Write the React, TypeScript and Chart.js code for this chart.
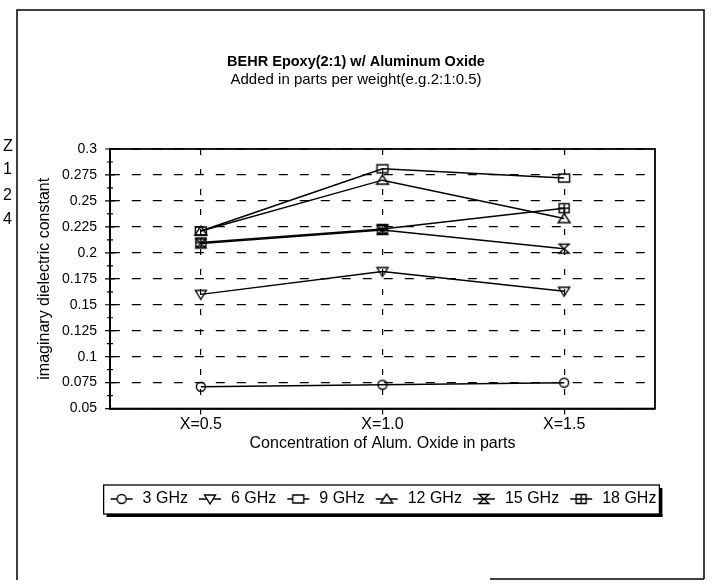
import React, { useEffect, useRef } from 'react';
import { Chart, registerables } from 'chart.js';

Chart.register(...registerables);

const categories = ['X=0.5', 'X=1.0', 'X=1.5'];
const seriesNames = ['3 GHz', '6 GHz', '9 GHz', '12 GHz', '15 GHz', '18 GHz'];
const ghz3 = [0.071, 0.073, 0.075];
const ghz6 = [0.16, 0.182, 0.163];
const ghz9 = [0.221, 0.281, 0.272];
const ghz12 = [0.221, 0.27, 0.233];
const ghz15 = [0.209, 0.222, 0.204];
const ghz18 = [0.21, 0.223, 0.243];
const yTickLabels = ['0.05', '0.075', '0.1', '0.125', '0.15', '0.175', '0.2', '0.225', '0.25', '0.275', '0.3'];
const markerKinds = ['circle', 'downTriangle', 'square', 'triangle', 'hourglass', 'boxPlus'];

const FAMILY = "'Liberation Sans', Arial, sans-serif";

function drawMarker(ctx: CanvasRenderingContext2D, kind: string, cx: number, cy: number, fillWhite: boolean) {
  ctx.strokeStyle = '#000';
  ctx.lineWidth = 1.4;
  ctx.fillStyle = '#fff';
  ctx.beginPath();
  switch (kind) {
    case 'circle':
      ctx.arc(cx, cy, 4.5, 0, Math.PI * 2);
      break;
    case 'downTriangle':
      ctx.moveTo(cx - 5.5, cy - 4);
      ctx.lineTo(cx + 5.5, cy - 4);
      ctx.lineTo(cx, cy + 5);
      ctx.closePath();
      break;
    case 'square':
      ctx.rect(cx - 5.5, cy - 4, 11, 8);
      break;
    case 'triangle':
      ctx.moveTo(cx - 6, cy + 4);
      ctx.lineTo(cx + 6, cy + 4);
      ctx.lineTo(cx, cy - 5);
      ctx.closePath();
      break;
    case 'hourglass':
      ctx.moveTo(cx - 5, cy - 4.5);
      ctx.lineTo(cx + 5, cy - 4.5);
      ctx.lineTo(cx - 5, cy + 4.5);
      ctx.lineTo(cx + 5, cy + 4.5);
      ctx.closePath();
      break;
    case 'boxPlus':
      ctx.rect(cx - 5, cy - 4.5, 10, 9);
      break;
  }
  if (fillWhite) ctx.fill();
  ctx.stroke();
  if (kind === 'boxPlus') {
    ctx.beginPath();
    ctx.moveTo(cx, cy - 4.5);
    ctx.lineTo(cx, cy + 4.5);
    ctx.moveTo(cx - 5, cy);
    ctx.lineTo(cx + 5, cy);
    ctx.stroke();
  }
}

function makeIcon(kind: string, width: number, withLine: boolean): HTMLCanvasElement {
  const c = document.createElement('canvas');
  c.width = width;
  c.height = 16;
  const ctx = c.getContext('2d')!;
  if (withLine) {
    ctx.strokeStyle = '#000';
    ctx.lineWidth = 1.5;
    ctx.beginPath();
    ctx.moveTo(2, 8);
    ctx.lineTo(width - 2, 8);
    ctx.stroke();
  }
  drawMarker(ctx, kind, width / 2, 8, withLine);
  return c;
}

const decorPlugin = {
  id: 'decor',
  afterLayout(chart: any) {
    const a = chart.chartArea;
    const d = (a.left + a.right) / 2 - chart.width / 2;
    if (chart.legend) {
      chart.legend.left += d;
      chart.legend.right += d;
    }
  },
  beforeDraw(chart: any) {
    const ctx = chart.ctx as CanvasRenderingContext2D;
    ctx.save();
    ctx.fillStyle = '#fff';
    ctx.fillRect(0, 0, chart.width, chart.height);
    ctx.strokeStyle = '#000';
    ctx.lineWidth = 1.5;
    ctx.beginPath();
    ctx.moveTo(17, 580);
    ctx.lineTo(17, 10);
    ctx.lineTo(704, 10);
    ctx.lineTo(704, 579);
    ctx.moveTo(490, 579);
    ctx.lineTo(704, 579);
    ctx.stroke();
    ctx.fillStyle = '#000';
    ctx.font = '16px ' + FAMILY;
    ctx.textBaseline = 'middle';
    const frags: [string, number][] = [['Z', 147], ['1', 170], ['2', 196], ['4', 220]];
    frags.forEach(([t, y]) => ctx.fillText(t, 3, y));
    ctx.restore();
  },
  beforeDatasetsDraw(chart: any) {
    const ctx = chart.ctx as CanvasRenderingContext2D;
    const a = chart.chartArea;
    const ys = chart.scales.y;
    ctx.save();
    ctx.strokeStyle = '#000';
    ctx.lineWidth = 1.8;
    ctx.strokeRect(a.left, a.top, a.right - a.left, a.bottom - a.top);
    ctx.lineWidth = 1.2;
    ctx.beginPath();
    const px = ys.ticks.map((t: any) => ys.getPixelForValue(t.value));
    px.forEach((p: number, i: number) => {
      ctx.moveTo(a.left - 5, p);
      ctx.lineTo(a.left + 5, p);
      if (i < px.length - 1) {
        const m = (p + px[i + 1]) / 2;
        ctx.moveTo(a.left - 3, m);
        ctx.lineTo(a.left + 3, m);
      }
    });
    ctx.stroke();
    ctx.restore();
  },
  afterDraw(chart: any) {
    const lg = chart.legend;
    if (!lg || !lg.legendHitBoxes || !lg.legendHitBoxes.length) return;
    const hb = lg.legendHitBoxes;
    const ctx = chart.ctx as CanvasRenderingContext2D;
    const last = hb[hb.length - 1];
    const l = hb[0].left - 5;
    const r = last.left + last.width + 3;
    const t = hb[0].top - 6;
    const b = hb[0].top + hb[0].height + 7;
    ctx.save();
    ctx.strokeStyle = '#000';
    ctx.lineWidth = 1.3;
    ctx.strokeRect(l, t, r - l, b - t);
    ctx.fillStyle = '#000';
    ctx.fillRect(l + 3, b, r - l, 3);
    ctx.fillRect(r, t + 3, 3, b - t);
    ctx.restore();
  },
};

export default function App() {
  const ref = useRef<HTMLCanvasElement>(null);
  useEffect(() => {
    document.body.style.margin = '0';
    const canvas = ref.current!;
    const seriesValues = [ghz3, ghz6, ghz9, ghz12, ghz15, ghz18];
    const pointIcons = markerKinds.map((k) => makeIcon(k, 16, false));
    const legendIcons = markerKinds.map((k) => makeIcon(k, 26, true));
    const chart = new Chart(canvas, {
      type: 'line',
      data: {
        labels: categories,
        datasets: seriesNames.map((name, i) => ({
          label: name,
          data: seriesValues[i],
          borderColor: '#000',
          backgroundColor: '#000',
          borderWidth: 1.5,
          pointStyle: pointIcons[i] as any,
          pointRadius: 6,
          tension: 0,
          fill: false,
        })),
      },
      options: {
        animation: false,
        responsive: false,
        events: [],
        layout: { padding: { top: 0, left: 0, right: 0, bottom: 67 } },
        scales: {
          x: {
            type: 'category',
            offset: true,
            grid: {
              color: '#000',
              lineWidth: 1.2,
              offset: false,
              drawTicks: true,
              tickLength: 6,
              tickColor: '#000',
              tickBorderDash: [],
            },
            border: { display: true, color: '#000', width: 1.8, dash: [6, 14] },
            ticks: { color: '#000', font: { family: FAMILY, size: 16 }, padding: 0, maxRotation: 0, autoSkip: false },
            title: {
              display: true,
              text: 'Concentration of Alum. Oxide in parts',
              color: '#000',
              font: { family: FAMILY, size: 16 },
              padding: { top: 0, bottom: 29 },
            },
          },
          y: {
            type: 'linear',
            min: 0.05,
            max: 0.3,
            afterFit: (s: any) => {
              s.width = 110;
            },
            ticks: {
              stepSize: 0.025,
              color: '#000',
              font: { family: FAMILY, size: 14 },
              padding: 13,
              callback: (_v: any, i: number) => yTickLabels[i],
            },
            grid: { color: '#000', lineWidth: 1.2, drawTicks: false },
            border: { display: true, color: '#000', width: 1.8, dash: [9, 12] },
            title: {
              display: true,
              text: 'imaginary dielectric constant',
              color: '#000',
              font: { family: FAMILY, size: 16 },
              padding: { top: 35, bottom: 0 },
            },
          },
          yR: {
            type: 'linear',
            position: 'right',
            display: true,
            grid: { display: false },
            ticks: { display: false },
            border: { display: false },
            afterFit: (s: any) => {
              s.width = 57;
            },
          },
        } as any,
        plugins: {
          title: {
            display: true,
            text: 'BEHR Epoxy(2:1) w/ Aluminum Oxide',
            color: '#000',
            font: { family: FAMILY, size: 14.5, weight: 'bold', lineHeight: 1.2 },
            padding: { top: 53, bottom: 0 },
          },
          subtitle: {
            display: true,
            text: 'Added in parts per weight(e.g.2:1:0.5)',
            color: '#000',
            font: { family: FAMILY, size: 15, lineHeight: 1.2 },
            padding: { top: 0, bottom: 60.6 },
          },
          legend: {
            display: true,
            position: 'bottom',
            align: 'center',
            labels: {
              usePointStyle: true,
              pointStyleWidth: 26,
              boxHeight: 16,
              color: '#000',
              font: { family: FAMILY, size: 16 },
              padding: 9,
              generateLabels: (ch: any) =>
                (Chart.defaults.plugins.legend.labels.generateLabels as any)(ch).map((item: any, i: number) => ({
                  ...item,
                  pointStyle: legendIcons[i],
                  rotation: 0,
                })),
            },
          },
          tooltip: { enabled: false },
        },
      } as any,
      plugins: [decorPlugin],
    });
    return () => chart.destroy();
  }, []);
  return <canvas ref={ref} width={712} height={584} style={{ display: 'block' }} />;
}
